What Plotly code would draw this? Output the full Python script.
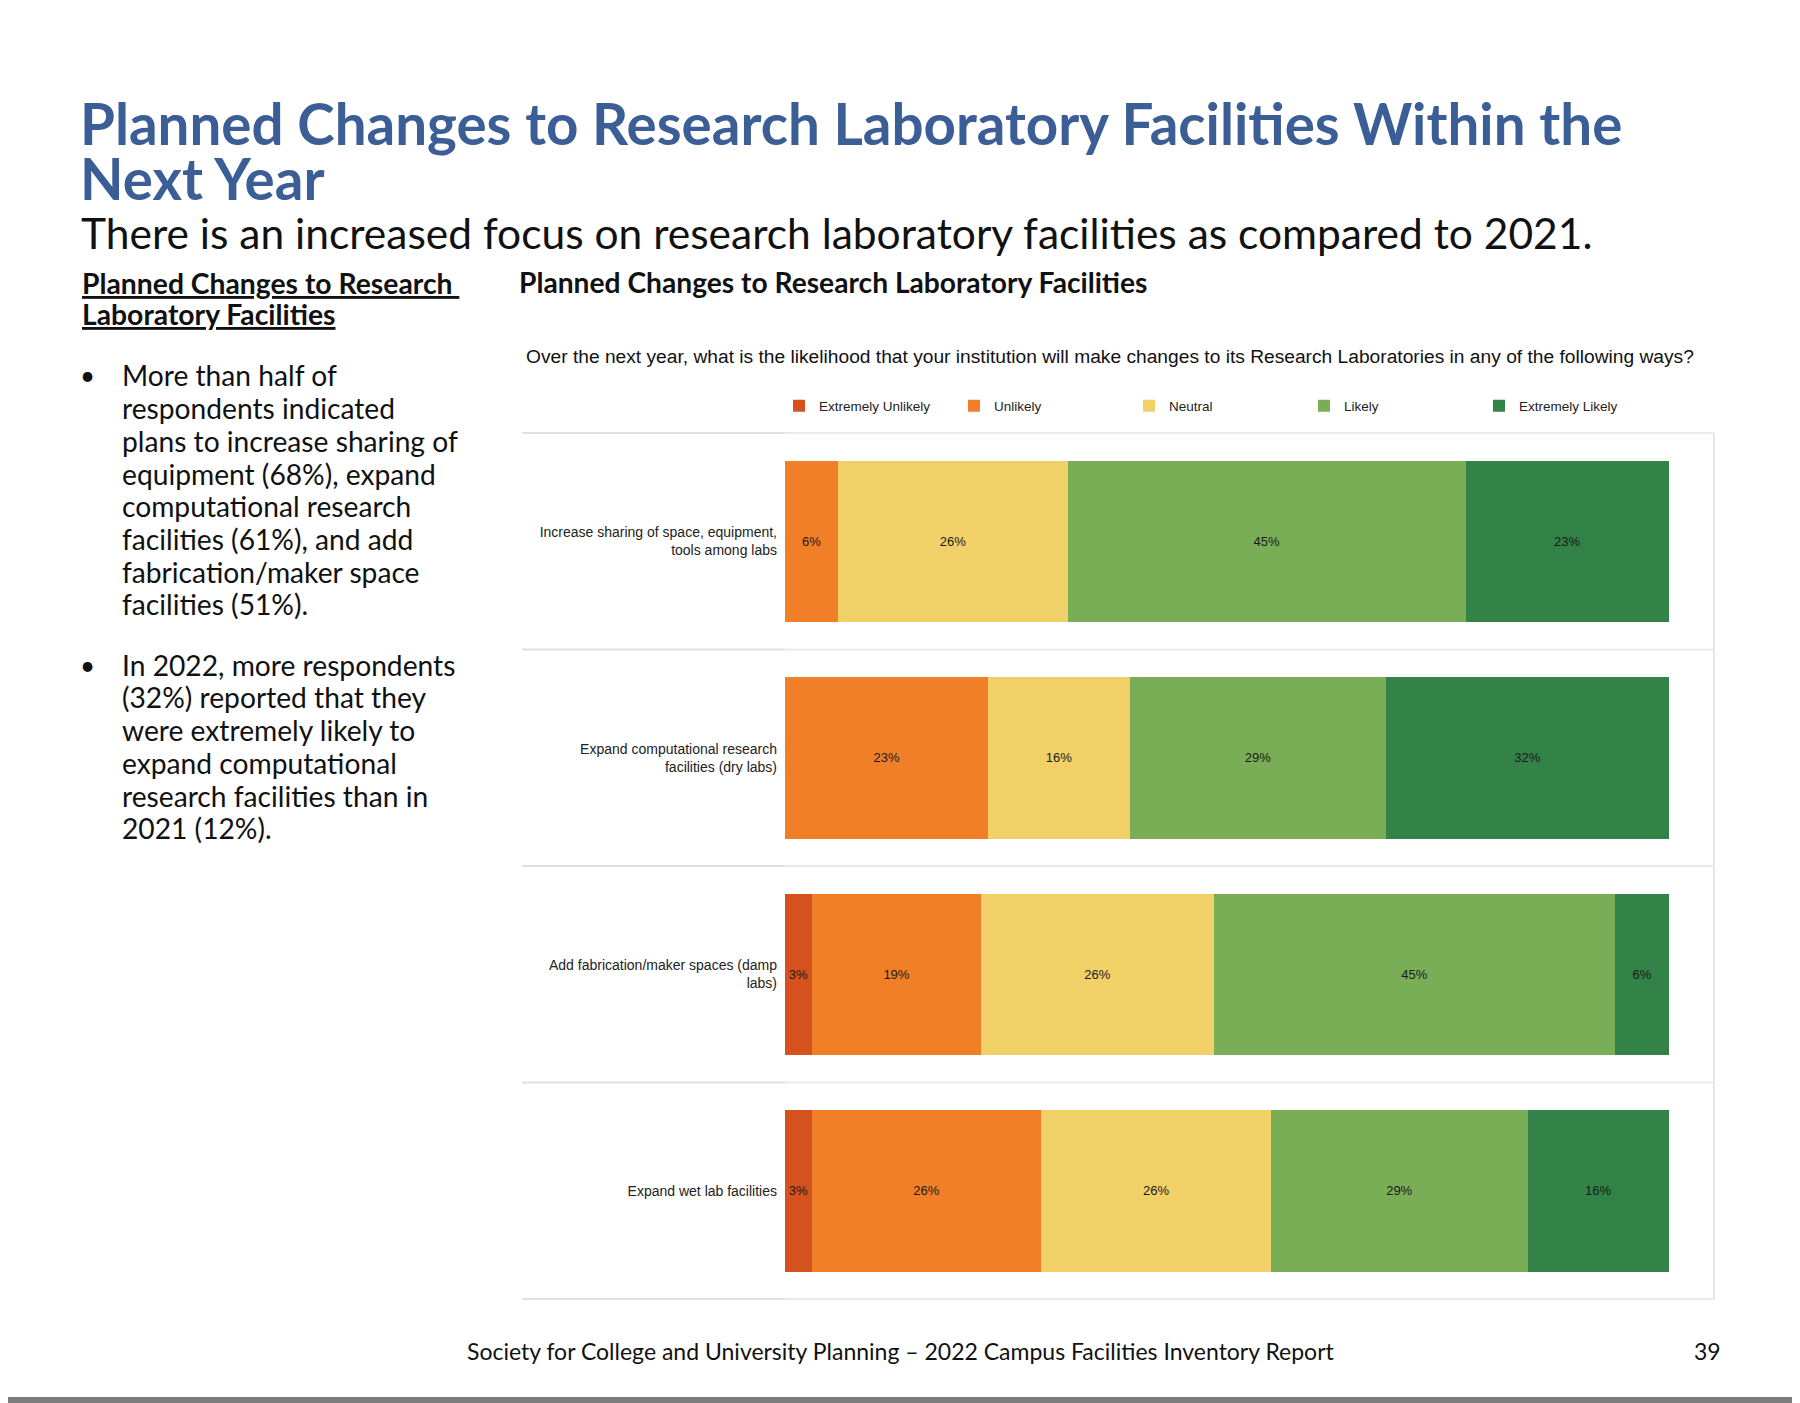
import plotly.graph_objects as go

# page offset: the browser's default 8px body margin
OFF = 8
W, H = 1800 - OFF, 1403 - OFF

categories = [
    "Increase sharing of space, equipment,<br>tools among labs",
    "Expand computational research<br>facilities (dry labs)",
    "Add fabrication/maker spaces (damp<br>labs)",
    "Expand wet lab facilities",
]
series_names = ["Extremely Unlikely", "Unlikely", "Neutral", "Likely", "Extremely Likely"]
extremely_unlikely = [None, None, 3, 3]
unlikely = [6, 23, 19, 26]
neutral = [26, 16, 26, 26]
likely = [45, 29, 45, 29]
extremely_likely = [23, 32, 6, 16]
series_values = [extremely_unlikely, unlikely, neutral, likely, extremely_likely]
series_colors = ["#D5521F", "#F07F27", "#F2D068", "#79AE56", "#338247"]

title_lines = ["Planned Changes to Research Laboratory Facilities Within the", "Next Year"]
subtitle = "There is an increased focus on research laboratory facilities as compared to 2021."
side_heading = ["Planned Changes to Research ", "Laboratory Facilities"]
bullet1 = ["More than half of", "respondents indicated", "plans to increase sharing of",
           "equipment (68%), expand", "computational research", "facilities (61%), and add",
           "fabrication/maker space", "facilities (51%)."]
bullet2 = ["In 2022, more respondents", "(32%) reported that they", "were extremely likely to",
           "expand computational", "research facilities than in", "2021 (12%)."]
chart_title = "Planned Changes to Research Laboratory Facilities"
question = "Over the next year, what is the likelihood that your institution will make changes to its Research Laboratories in any of the following ways?"
footer = "Society for College and University Planning \u2013 2022 Campus Facilities Inventory Report"
page_no = "39"


def px(x):
    return (x - OFF) / W


def py(y):
    return 1 - (y - OFF) / H


BODY = "Lato, Open Sans, sans-serif"
NARROW = "Liberation Sans, Arial, sans-serif"

fig = go.Figure()
for name, vals, col in zip(series_names, series_values, series_colors):
    fig.add_trace(go.Bar(
        y=categories, x=vals, name=name, orientation="h",
        marker=dict(color=col, line=dict(width=0)),
        text=[f"{v}%" if v is not None else "" for v in vals],
        textposition="inside", insidetextanchor="middle", textangle=0,
        textfont=dict(family=NARROW, size=13, color="#1a1a1a"),
        constraintext="none", hoverinfo="skip",
    ))

fig.update_layout(
    width=W, height=H, autosize=False,
    margin=dict(l=0, r=0, t=0, b=0, autoexpand=False),
    paper_bgcolor="white", plot_bgcolor="white",
    barmode="stack", barnorm="percent", bargap=0.254,
    showlegend=True,
    legend=dict(orientation="h", x=px(779), y=py(406), xanchor="left", yanchor="middle",
                entrywidth=130, entrywidthmode="pixels", traceorder="normal",
                font=dict(family=NARROW, size=13.5, color="#222"), itemwidth=30,
                bgcolor="rgba(0,0,0,0)"),
    xaxis=dict(domain=[px(785), px(1669)], range=[0, 100], visible=False, fixedrange=True),
    yaxis=dict(domain=[py(1300), py(432)], autorange="reversed", showgrid=False, zeroline=False,
               showline=False, ticks="", ticklabelstandoff=7,
               tickfont=dict(family=NARROW, size=14, color="#222")),
)

# frame / separators
for i in range(len(categories) + 1):
    yv = i - 0.5
    fig.add_shape(type="line", xref="paper", yref="y", x0=px(522), x1=px(785), y0=yv, y1=yv,
                  line=dict(color="#e0e0e0", width=2))
    fig.add_shape(type="line", xref="paper", yref="y", x0=px(785), x1=px(1714), y0=yv, y1=yv,
                  line=dict(color="#ebebeb", width=2))
fig.add_shape(type="line", xref="paper", yref="y", x0=px(1714), x1=px(1714), y0=-0.5, y1=len(categories) - 0.5,
              line=dict(color="#e6e6e6", width=2))

# bottom page edge
fig.add_shape(type="rect", xref="paper", yref="paper", x0=0, x1=1, y0=0, y1=py(1397),
              line=dict(width=0), fillcolor="#7c7c7c")

ann = []
for t, yc in zip(title_lines, (123, 178)):
    ann.append(dict(text="<b>" + t + "</b>", x=px(78), y=py(yc), xanchor="left", yanchor="middle",
                    font=dict(family=BODY, size=56.5, color="#3B5E96")))
ann.append(dict(text=subtitle, x=px(79), y=py(233), xanchor="left", yanchor="middle",
                font=dict(family=BODY, size=42.5, color="#111")))
for t, yc in zip(side_heading, (282.5, 314.5)):
    ann.append(dict(text="<b><span style='text-decoration:underline'>" + t + "</span></b>",
                    x=px(80), y=py(yc), xanchor="left", yanchor="middle", align="left",
                    font=dict(family=BODY, size=28.3, color="#111")))
for lines, y0 in ((bullet1, 375.4), (bullet2, 664.7)):
    for i, t in enumerate(lines):
        ann.append(dict(text=t, x=px(120), y=py(y0 + i * 32.7), xanchor="left", yanchor="middle",
                        font=dict(family=BODY, size=28.2, color="#111")))
    ann.append(dict(text="\u2022", x=px(87), y=py(y0), xanchor="center", yanchor="middle",
                    font=dict(family=BODY, size=26, color="#111")))
ann.append(dict(text="<b>" + chart_title + "</b>", x=px(517), y=py(282), xanchor="left", yanchor="middle",
                font=dict(family=BODY, size=28.2, color="#111")))
ann.append(dict(text=question, x=px(524), y=py(356), xanchor="left", yanchor="middle",
                font=dict(family=NARROW, size=19.2, color="#111")))
ann.append(dict(text=footer, x=px(901), y=py(1351), xanchor="center", yanchor="middle",
                font=dict(family=BODY, size=23, color="#111")))
ann.append(dict(text=page_no, x=px(1707), y=py(1351), xanchor="center", yanchor="middle",
                font=dict(family=BODY, size=23, color="#111")))
for a in ann:
    a.update(xref="paper", yref="paper", showarrow=False)
fig.update_layout(annotations=ann)

fig.write_html("out.html")
